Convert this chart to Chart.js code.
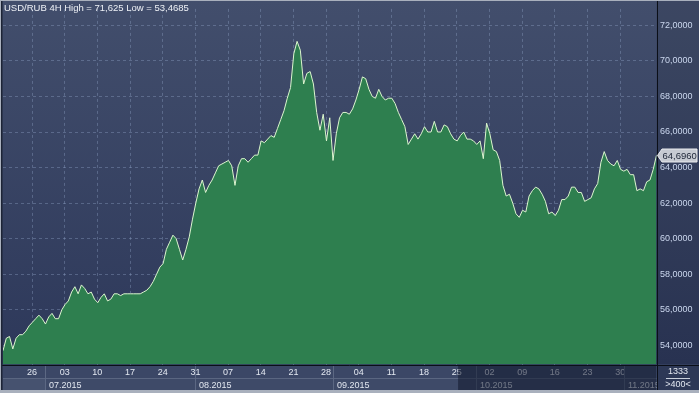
<!DOCTYPE html>
<html>
<head>
<meta charset="utf-8">
<script src="https://cdn.jsdelivr.net/npm/chart.js@4/dist/chart.umd.min.js"></script>
<style>
	html, body { margin:0; padding:0; background:#2f3a58; }
	#chart { display:block; }
</style>
</head>
<body>
<canvas id="chart" width="699" height="393"></canvas>
<script>
// USD/RUB 4H: two samples per trading day
var title = "USD/RUB 4H High = 71,625 Low = 53,4685";
var startDay = -4.44;   // first sample, trading days from 26.06
var stepDay = 0.5;
var rates = [
	53.7, 54.4, 54.5, 53.8, 54.4, 54.6, 54.6, 54.8, 55.1, 55.3,
	55.5, 55.7, 55.5, 55.2, 55.6, 55.8, 55.5, 55.5, 56.0, 56.3,
	56.5, 57.0, 57.3, 56.9, 57.4, 57.2, 56.9, 57.0, 56.6, 56.4,
	56.7, 56.9, 56.5, 56.6, 56.9, 56.9, 56.8, 56.9, 56.9, 56.9,
	56.9, 56.9, 56.9, 57.0, 57.1, 57.3, 57.6, 58.0, 58.4, 58.6,
	59.4, 59.8, 60.2, 60.0, 59.4, 58.8, 59.4, 60.1, 61.1, 62.0,
	62.8, 63.3, 62.6, 63.0, 63.3, 63.7, 64.1, 64.2, 64.3, 64.4,
	64.1, 63.0, 64.1, 64.5, 64.5, 64.3, 64.5, 64.7, 64.7, 65.5,
	65.4, 65.6, 65.8, 65.7, 66.2, 66.7, 67.2, 67.9, 68.5, 70.4,
	71.1, 70.6, 68.7, 69.3, 69.4, 68.7, 67.1, 66.1, 67.0, 65.5,
	66.8, 64.4, 65.9, 66.8, 67.1, 67.1, 67.0, 67.3, 67.8, 68.4,
	69.1, 69.0, 68.4, 68.0, 67.9, 68.4, 68.0, 67.8, 67.9, 67.9,
	67.6, 67.1, 66.7, 66.3, 65.3, 65.6, 65.9, 65.6, 65.9, 66.3,
	66.0, 66.0, 66.6, 66.0, 66.0, 66.4, 66.3, 65.9, 65.6, 65.5,
	65.8, 66.0, 65.6, 65.6, 65.5, 65.3, 65.5, 64.5, 66.5, 65.9,
	65.0, 64.9, 64.4, 63.0, 62.4, 62.5, 62.0, 61.4, 61.2, 61.6,
	61.5, 62.4, 62.7, 62.9, 62.8, 62.5, 62.1, 61.4, 61.5, 61.3,
	61.6, 62.2, 62.2, 62.4, 62.9, 62.9, 62.6, 62.6, 62.1, 62.2,
	62.3, 62.8, 63.1, 64.3, 64.9, 64.4, 64.2, 64.1, 64.4, 63.9,
	63.8, 63.9, 63.6, 63.6, 62.7, 62.8, 62.7, 63.2, 63.3, 63.9,
	64.696
];
var lastRate = 64.6960;

// weekly ticks (every 5 trading days), month boxes on the second row
var weekLabels = ["26","03","10","17","24","31","07","14","21","28","04","11","18","25","02","09","16","23","30"];
var monthLabels = ["07.2015","08.2015","09.2015","10.2015","11.2015"];
var monthStarts = [2, 25, 46, 68, 90.6];
var priceTicks = [54, 56, 58, 60, 62, 64, 66, 68, 70, 72];
var shadeFrom = 65.2;   // darker part of the date bar

var FONT = "'Liberation Sans', Arial, sans-serif";

var points = rates.map(function(v, i){ return { x: startDay + i*stepDay, y: v }; });

function fmt(v){ return v.toFixed(4).replace('.', ','); }

var panel = {
	id: 'panel',
	beforeDraw: function(chart){
		var ctx = chart.ctx, a = chart.chartArea, W = chart.width, H = chart.height;
		ctx.save();
		var g = ctx.createLinearGradient(0, 0, 0, a.bottom);
		g.addColorStop(0, '#424e6c');
		g.addColorStop(1, '#2d385a');
		ctx.fillStyle = g;
		ctx.fillRect(0, 0, W, a.bottom);
		// price panel on the right, a bit darker
		ctx.fillStyle = 'rgba(0,0,0,0.09)';
		ctx.fillRect(a.right, 0, W - a.right, a.bottom);
		// date bar
		ctx.fillStyle = '#3b4766';
		ctx.fillRect(0, a.bottom, W, H - a.bottom);
		ctx.restore();
	},
	afterDraw: function(chart){
		var ctx = chart.ctx, a = chart.chartArea, W = chart.width, H = chart.height,
			xs = chart.scales.x, ys = chart.scales.y,
			rowTop = a.bottom + 13.5, rowBot = 390, i, x;

		ctx.save();

		// month row
		ctx.fillStyle = '#3e4a68';
		ctx.fillRect(a.left, rowTop, a.right - a.left, rowBot - rowTop);
		ctx.fillStyle = '#46526f';
		ctx.fillRect(a.left, rowTop, xs.getPixelForValue(monthStarts[0]) - a.left, rowBot - rowTop);
		ctx.strokeStyle = '#5a6681';
		ctx.lineWidth = 1;
		ctx.beginPath();
		ctx.moveTo(a.left, rowTop + 0.5); ctx.lineTo(a.right, rowTop + 0.5);
		ctx.stroke();

		ctx.beginPath();
		ctx.rect(a.left, a.bottom, a.right - a.left, rowBot - a.bottom);
		ctx.clip();
		ctx.font = '9px ' + FONT;
		ctx.textBaseline = 'alphabetic';
		ctx.textAlign = 'left';
		for(i=0; i<monthStarts.length; i++){
			x = Math.round(xs.getPixelForValue(monthStarts[i])) + 0.5;
			ctx.strokeStyle = '#5c6883';
			ctx.beginPath();
			ctx.moveTo(x, a.bottom + 1); ctx.lineTo(x, rowBot);
			ctx.stroke();
			ctx.fillStyle = '#e2e7f0';
			ctx.fillText(monthLabels[i], x + 3.5, 387.5);
		}
		// dimmed part of the date bar
		x = xs.getPixelForValue(shadeFrom);
		ctx.fillStyle = 'rgba(16,24,44,0.55)';
		ctx.fillRect(x, a.bottom + 1, a.right - x, rowBot - a.bottom - 1);
		ctx.restore();

		ctx.save();
		// separators
		ctx.strokeStyle = '#0b0f18';
		ctx.lineWidth = 1;
		ctx.beginPath();
		ctx.moveTo(0, Math.round(a.bottom) + 0.5); ctx.lineTo(W, Math.round(a.bottom) + 0.5);
		ctx.moveTo(Math.round(a.right) + 0.5, 0); ctx.lineTo(Math.round(a.right) + 0.5, rowBot);
		ctx.stroke();

		// corner box
		ctx.fillStyle = '#2d3856';
		ctx.fillRect(Math.round(a.right) + 1, Math.round(a.bottom) + 1, W, rowBot - a.bottom - 1);
		ctx.fillStyle = '#e2e7f0';
		ctx.font = '9px ' + FONT;
		ctx.textAlign = 'center';
		ctx.textBaseline = 'middle';
		ctx.fillText('1333', 678, 372);
		ctx.fillText('>400<', 678, 384.5);
		ctx.strokeStyle = '#c9d0dc';
		ctx.beginPath();
		ctx.moveTo(666, 378.5); ctx.lineTo(690, 378.5);
		ctx.stroke();

		// outer frame
		ctx.fillStyle = '#a9b0bd';
		ctx.fillRect(0, rowBot, W, H - rowBot);
		ctx.fillRect(0, 0, 1, H);
		ctx.fillRect(0, 0, W, 1);
		ctx.fillStyle = '#1d2436';
		ctx.fillRect(1, 1, 1.5, rowBot - 1);

		// title
		ctx.fillStyle = '#eef1f6';
		ctx.font = '9.5px ' + FONT;
		ctx.textAlign = 'left';
		ctx.textBaseline = 'middle';
		ctx.fillText(title, 4, 8);

		// last price tag
		var y = Math.round(ys.getPixelForValue(lastRate)) + 0.5,
			bx = Math.round(a.right) + 5;
		ctx.fillStyle = '#c6cad2';
		ctx.strokeStyle = '#e9ebef';
		ctx.beginPath();
		ctx.moveTo(a.right + 1, y);
		ctx.lineTo(bx, y - 6.5);
		ctx.lineTo(W - 2, y - 6.5);
		ctx.lineTo(W - 2, y + 6.5);
		ctx.lineTo(bx, y + 6.5);
		ctx.closePath();
		ctx.fill();
		ctx.stroke();
		ctx.fillStyle = '#1c2436';
		ctx.font = '9.5px ' + FONT;
		ctx.fillText(fmt(lastRate), bx + 0.5, y + 0.5);
		ctx.restore();
	}
};

new Chart(document.getElementById('chart'), {
	type: 'line',
	data: {
		datasets: [{
			data: points,
			borderColor: '#dcf6cf',
			borderWidth: 1,
			backgroundColor: '#2e7f4f',
			fill: 'start',
			pointRadius: 0,
			tension: 0
		}]
	},
	options: {
		responsive: false,
		animation: false,
		events: [],
		layout: { padding: { left: 3, top: 2, right: 0, bottom: 0 } },
		plugins: {
			legend: { display: false },
			tooltip: { enabled: false }
		},
		scales: {
			x: {
				type: 'linear',
				position: 'bottom',
				min: startDay,
				max: startDay + (rates.length - 1)*stepDay,
				z: 1,
				afterFit: function(s){ s.height = 28.5; },
				afterBuildTicks: function(s){
					s.ticks = weekLabels.map(function(l, k){ return { value: k*5 }; });
				},
				grid: { color: 'rgba(150,168,205,0.36)', drawTicks: false },
				border: { display: false, dash: [3, 3] },
				ticks: {
					autoSkip: false,
					maxRotation: 0,
					padding: 3,
					color: '#e3e8f1',
					font: { family: FONT, size: 9 },
					callback: function(v, k){ return weekLabels[k]; }
				}
			},
			y: {
				type: 'linear',
				position: 'right',
				min: 52.924,
				max: 72.924,
				z: 1,
				afterFit: function(s){ s.width = 42.5; },
				afterBuildTicks: function(s){
					s.ticks = priceTicks.map(function(v){ return { value: v }; });
				},
				grid: { color: 'rgba(150,168,205,0.36)', drawTicks: false },
				border: { display: false, dash: [3, 3] },
				ticks: {
					padding: 3.5,
					color: '#cbd7ee',
					font: { family: FONT, size: 9 },
					callback: function(v){ return fmt(v); }
				}
			}
		}
	},
	plugins: [panel]
});
</script>
</body>
</html>
